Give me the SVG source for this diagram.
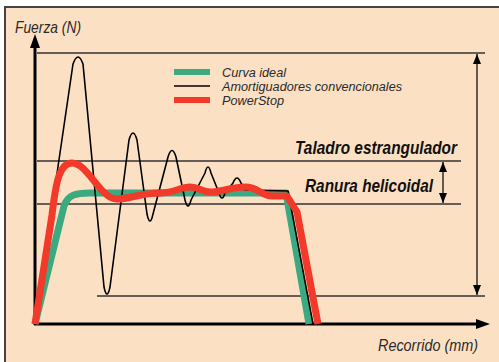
<svg xmlns="http://www.w3.org/2000/svg" width="499" height="362" viewBox="0 0 499 362">
<defs>
<style>
.lbl{font-family:"Liberation Sans Narrow","Liberation Sans",Arial,sans-serif;font-style:italic;fill:#2a2a2a}
.bold{font-family:"Liberation Sans Narrow","Liberation Sans",Arial,sans-serif;font-style:italic;font-weight:bold;fill:#111}
.grid{stroke:#333;stroke-width:1.3;fill:none}
.axis{stroke:#000;stroke-width:3;fill:none}
.dim{stroke:#111;stroke-width:1.3;fill:none}
</style>
<marker id="ah" viewBox="0 0 10 10" refX="10" refY="5" markerWidth="10" markerHeight="10" markerUnits="userSpaceOnUse" orient="auto-start-reverse"><path d="M0,1 L10,5 L0,9 Z" fill="#000"/></marker>
</defs>
<rect x="0" y="0" width="499" height="362" fill="#fff"/>
<rect x="5" y="7" width="500" height="360" fill="#FCE0C4" stroke="#444" stroke-width="2"/>

<g id="grid-lines">
<line class="grid" x1="37" y1="53" x2="485" y2="53"/>
<line class="grid" x1="37" y1="161" x2="461" y2="161"/>
<line class="grid" x1="37" y1="204" x2="461" y2="204"/>
<line class="grid" x1="97" y1="296" x2="485" y2="296"/>
</g>

<g id="axes">
<line class="axis" x1="35" y1="325" x2="35" y2="46"/>
<path d="M35,34 L30,48 L40,48 Z" fill="#000"/>
<line class="axis" x1="34" y1="324" x2="478" y2="324"/>
<path d="M490,324 L476,319 L476,329 Z" fill="#000"/>
</g>

<g id="curves">
<path id="ideal" d="M35,324 L64,206 C68,195 75,193 90,193 L286,193 L309,324" fill="none" stroke="#3BAA80" stroke-width="7" stroke-linejoin="round"/>
<path id="conv" d="M35,324 L73,64 Q78,50 83,64 L104,287 Q107,301 110,287 L129,140 Q133,126 137,140 L147,214 Q150,228 153,214 L168,157 Q172,144 176,157 L185,200 Q188,212 191,200 L205,173 Q208,161 211,173 L219,193 Q222,203 225,193 L233,183 Q237,173 241,183 L245,190 L288,191 L313,324" fill="none" stroke="#000" stroke-width="1.6" stroke-linejoin="round"/>
<path id="powerstop" d="M35,324 L52,215 C56,180 60,163 72,163 C88,163 100,199 117,199 C130,199 140,193 160,193 C175,193 180,187 190,187 C200,187 202,193 212,192 C225,191 232,187 245,187 C258,187 262,196 272,196 L287,196 L297,212 L318,324" fill="none" stroke="#F2392A" stroke-width="7" stroke-linejoin="round"/>
</g>

<g id="dimensions">
<line class="dim" x1="477" y1="54" x2="477" y2="295" marker-start="url(#ah)" marker-end="url(#ah)"/>
<line class="dim" x1="443" y1="162" x2="443" y2="203" marker-start="url(#ah)" marker-end="url(#ah)"/>
</g>

<g id="legend">
<rect x="174" y="69" width="36" height="6" fill="#3BAA80"/>
<line x1="174" y1="86" x2="210" y2="86" stroke="#000" stroke-width="1.6"/>
<rect x="174" y="97" width="36" height="6" fill="#F2392A"/>
<text class="lbl" x="222" y="77" font-size="12.5" textLength="64" lengthAdjust="spacingAndGlyphs">Curva ideal</text>
<text class="lbl" x="222" y="91" font-size="12.5" textLength="180" lengthAdjust="spacingAndGlyphs">Amortiguadores convencionales</text>
<text class="lbl" x="222" y="105" font-size="12.5" textLength="62" lengthAdjust="spacingAndGlyphs">PowerStop</text>
</g>

<g id="labels">
<text class="lbl" x="15" y="33" font-size="16.5" textLength="66" lengthAdjust="spacingAndGlyphs">Fuerza (N)</text>
<text class="lbl" x="378" y="351" font-size="16.5" textLength="100" lengthAdjust="spacingAndGlyphs">Recorrido (mm)</text>
<text class="bold" x="295" y="154" font-size="17.5" textLength="162" lengthAdjust="spacingAndGlyphs">Taladro estrangulador</text>
<text class="bold" x="305" y="192" font-size="17.5" textLength="128" lengthAdjust="spacingAndGlyphs">Ranura helicoidal</text>
</g>
</svg>
